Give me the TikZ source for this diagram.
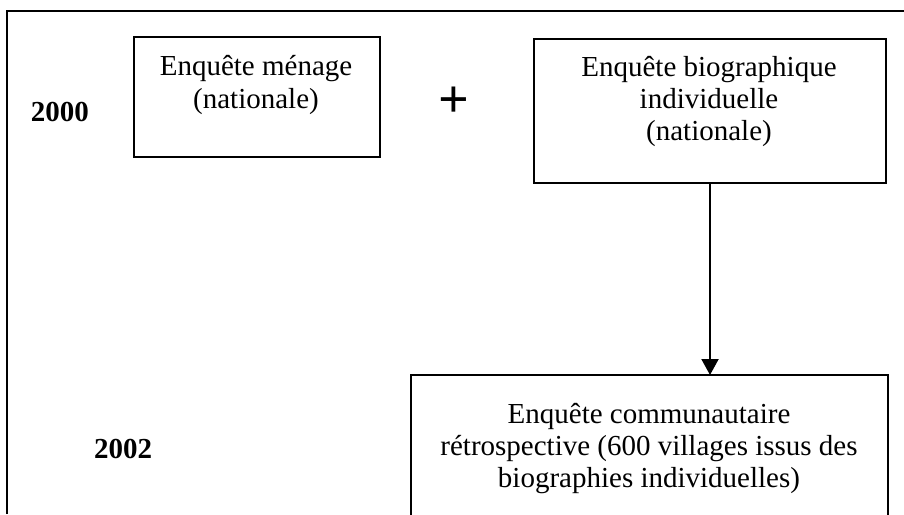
\documentclass[tikz,border=0pt]{standalone}
\usepackage{fontspec}
\setmainfont{Liberation Serif}
\usetikzlibrary{arrows.meta}
\begin{document}
\begin{tikzpicture}[x=0.5pt,y=-0.5pt, line width=1pt,
  boxnode/.style={draw, inner sep=0pt, anchor=north west},
  txt/.style={font=\fontsize{14.5}{16}\selectfont, anchor=base, inner sep=0pt},
  yearlbl/.style={font=\fontsize{14.5}{16}\selectfont\bfseries, anchor=base west, inner sep=0pt},
  plussign/.style={font=\fontsize{27}{30}\selectfont\bfseries, inner sep=0pt}]
\useasboundingbox (0,0) rectangle (904,514);
% outer frame (left and top sides)
\coordinate (fbl) at (7,514);
\coordinate (ftl) at (7,11);
\coordinate (ftr) at (904,11);
\draw (fbl) -- (ftl) -- (ftr);
% boxes
\node[boxnode, minimum width=123pt, minimum height=60pt] (b1) at (133,36) {};
\node[boxnode, minimum width=176pt, minimum height=72pt] (b2) at (533,38) {};
\node[boxnode, draw=none, minimum width=237.5pt, minimum height=70pt] (b3) at (411,375) {};
\draw (b3.south west) -- (b3.north west) -- (b3.north east) -- (b3.south east);
% arrow
\draw[-{Triangle[width=8.5pt,length=8pt]}] (b2.south) -- (b2.south |- b3.north);
% texts
\node[txt] (t1a) at (256,75) {Enquête ménage};
\node[txt] (t1b) at (256,108) {(nationale)};
\node[txt] (t2a) at (709,76) {Enquête biographique};
\node[txt] (t2b) at (709,108) {individuelle};
\node[txt] (t2c) at (709,140) {(nationale)};
\node[txt] (t3a) at (649,423) {Enquête communautaire};
\node[txt] (t3b) at (649,455) {rétrospective (600 villages issus des};
\node[txt] (t3c) at (649,487) {biographies individuelles)};
\node[yearlbl] (y1) at (30,121) {2000};
\node[yearlbl] (y2) at (93,458) {2002};
\node[plussign] (plus) at (454,102) {+};
\end{tikzpicture}
\end{document}
